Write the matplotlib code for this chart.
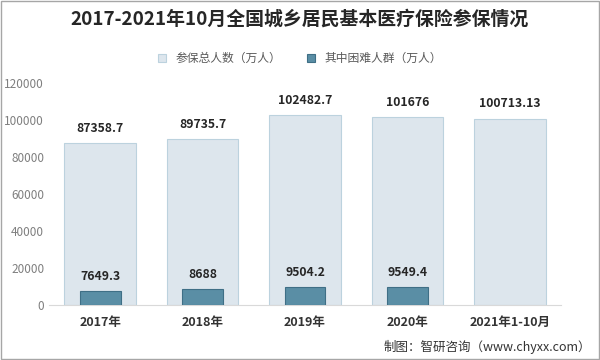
import matplotlib
matplotlib.use("Agg")
import matplotlib.pyplot as plt
import numpy as np

plt.rcParams["font.family"] = ["Noto Sans CJK SC", "DejaVu Sans"]

categories = ["2017年", "2018年", "2019年", "2020年", "2021年1-10月"]
total_insured = [87358.7, 89735.7, 102482.7, 101676, 100713.13]
poor_insured = [7649.3, 8688, 9504.2, 9549.4, None]
total_labels = ["87358.7", "89735.7", "102482.7", "101676", "100713.13"]
poor_labels = ["7649.3", "8688", "9504.2", "9549.4", ""]

fig = plt.figure(figsize=(6, 3.6), dpi=100)
ax = fig.add_axes([49 / 600, 1 - 305 / 360, 512 / 600, (305 - 83) / 360])

x = np.arange(len(categories))
ax.bar(x, total_insured, width=0.7, color="#dde6ed", edgecolor="#bcd2de",
       linewidth=0.8, label="参保总人数（万人）", zorder=2)
poor_x = [i for i, v in enumerate(poor_insured) if v is not None]
poor_v = [v for v in poor_insured if v is not None]
ax.bar(poor_x, poor_v, width=0.4, color="#5a8ea5", edgecolor="#3f6f86",
       linewidth=0.8, label="其中困难人群（万人）", zorder=3)

for i, (v, s) in enumerate(zip(total_insured, total_labels)):
    ax.text(i, v + 4500, s, ha="center", va="bottom", fontsize=8.8,
            fontweight="bold", color="#262626", zorder=4)
for i, v in zip(poor_x, poor_v):
    ax.text(i, v + 4500, poor_labels[i], ha="center", va="bottom", fontsize=8.8,
            fontweight="bold", color="#262626", zorder=4)

ax.set_xlim(-0.5, 4.5)
ax.set_ylim(0, 120000)
ax.set_yticks(np.arange(0, 120001, 20000))
ax.set_xticks(x)
ax.set_xticklabels(categories, fontsize=9, fontweight="bold", color="#333333")
ax.tick_params(axis="y", labelsize=8.5, labelcolor="#7f7f7f", length=0)
ax.tick_params(axis="x", length=0, pad=8)
for side in ["top", "right", "left"]:
    ax.spines[side].set_visible(False)
ax.spines["bottom"].set_color("#d9d9d9")

fig.text(0.5, 0.948, "2017-2021年10月全国城乡居民基本医疗保险参保情况",
         ha="center", va="center", fontsize=13.6, fontweight="bold", color="#262626")
fig.legend(loc="center", bbox_to_anchor=(0.5, 0.838), ncol=2, frameon=False,
           fontsize=8.5, handlelength=0.7, handleheight=0.7, columnspacing=2.2,
           labelcolor="#595959")
fig.text(0.985, 0.035, "制图：智研咨询（www.chyxx.com）", ha="right", va="center",
         fontsize=9, color="#333333")

fig.patches.append(plt.Rectangle((0.002, 0.003), 0.996, 0.994, transform=fig.transFigure,
                                 fill=False, edgecolor="#a6a6a6", linewidth=1))

fig.savefig("out.png", dpi=100)
